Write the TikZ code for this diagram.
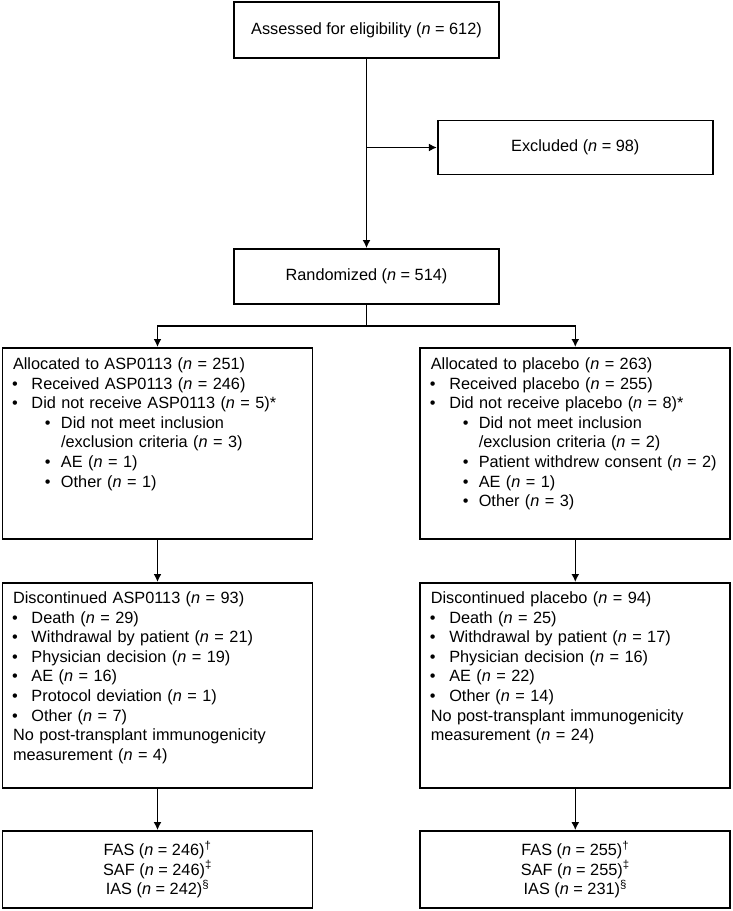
\documentclass[tikz,border=0pt]{standalone}
\usepackage{fontspec}
\setmainfont{Liberation Sans}
\usetikzlibrary{arrows.meta}
\tikzset{flowbox/.style={draw, line width=1.8pt, align=center, inner sep=0pt},
  listbox/.style={draw, line width=1.8pt, align=left, text width=289pt,
    inner xsep=10.5pt, inner ysep=0pt, anchor=north}}
\newcommand{\nn}{\textit{n}}
\newcommand{\itemA}{\makebox[18.5pt][l]{\hspace{-1pt}\textbullet}}
\newcommand{\itemB}{\makebox[48pt][l]{\hspace{32pt}\textbullet}}
\newcommand{\itemC}{\makebox[48pt]{}}

\begin{document}
\begin{tikzpicture}[x=1pt, y=-1pt, >={Latex[length=8pt,width=8pt]},
  every node/.style={font=\fontsize{16.3pt}{19.6pt}\selectfont}]
\useasboundingbox (0,0) rectangle (733,911);
\node[flowbox, minimum width=265pt, minimum height=56pt] (assess) at (366.5,30) {Assessed for eligibility (\nn{} = 612)};
\node[flowbox, minimum width=275pt, minimum height=54pt] (excl) at (575.3,147.5) {Excluded (\nn{} = 98)};
\node[flowbox, minimum width=265pt, minimum height=55pt] (rand) at (366.5,276.5) {Randomized (\nn{} = 514)};
\coordinate (split) at (366.5,326);

\node[listbox, text height=21.5pt, text depth=169.5pt] (allocA) at (157.5,347) {Allocated to ASP0113 (\nn{} = 251)\\
\itemA Received ASP0113 (\nn{} = 246)\\
\itemA Did not receive ASP0113 (\nn{} = 5)*\\
\itemB Did not meet inclusion\\
\itemC /exclusion criteria (\nn{} = 3)\\
\itemB AE (\nn{} = 1)\\
\itemB Other (\nn{} = 1)};
\node[listbox, text height=21.5pt, text depth=169.5pt] (allocB) at (575.3,347) {Allocated to placebo (\nn{} = 263)\\
\itemA Received placebo (\nn{} = 255)\\
\itemA Did not receive placebo (\nn{} = 8)*\\
\itemB Did not meet inclusion\\
\itemC /exclusion criteria (\nn{} = 2)\\
\itemB Patient withdrew consent (\nn{} = 2)\\
\itemB AE (\nn{} = 1)\\
\itemB Other (\nn{} = 3)};

\node[listbox, text height=20.5pt, text depth=184.5pt] (discA) at (157.5,582) {Discontinued ASP0113 (\nn{} = 93)\\
\itemA Death (\nn{} = 29)\\
\itemA Withdrawal by patient (\nn{} = 21)\\
\itemA Physician decision (\nn{} = 19)\\
\itemA AE (\nn{} = 16)\\
\itemA Protocol deviation (\nn{} = 1)\\
\itemA Other (\nn{} = 7)\\
No post-transplant immunogenicity\\
measurement (\nn{} = 4)};
\node[listbox, text height=20.5pt, text depth=184.5pt] (discB) at (575.3,582) {Discontinued placebo (\nn{} = 94)\\
\itemA Death (\nn{} = 25)\\
\itemA Withdrawal by patient (\nn{} = 17)\\
\itemA Physician decision (\nn{} = 16)\\
\itemA AE (\nn{} = 22)\\
\itemA Other (\nn{} = 14)\\
No post-transplant immunogenicity\\
measurement (\nn{} = 24)};

\node[flowbox, minimum width=310pt, minimum height=77pt] (finalA) at (157.5,869.5) {FAS (\nn{} = 246)\textsuperscript{†}\\SAF (\nn{} = 246)\textsuperscript{‡}\\IAS (\nn{} = 242)\textsuperscript{§}};
\node[flowbox, minimum width=310pt, minimum height=77pt] (finalB) at (575.3,869.5) {FAS (\nn{} = 255)\textsuperscript{†}\\SAF (\nn{} = 255)\textsuperscript{‡}\\IAS (\nn{} = 231)\textsuperscript{§}};

\draw[->, line width=1.6pt] (assess) -- (rand);
\draw[->, line width=1.6pt] (assess.south |- excl.west) -- (excl.west);
\draw[line width=1.6pt] (rand) -- (split);
\draw[->, line width=1.6pt] (split) -| (allocA);
\draw[->, line width=1.6pt] (split) -| (allocB);
\draw[->, line width=1.6pt] (allocA) -- (discA);
\draw[->, line width=1.6pt] (allocB) -- (discB);
\draw[->, line width=1.6pt] (discA) -- (finalA);
\draw[->, line width=1.6pt] (discB) -- (finalB);
\end{tikzpicture}
\end{document}
